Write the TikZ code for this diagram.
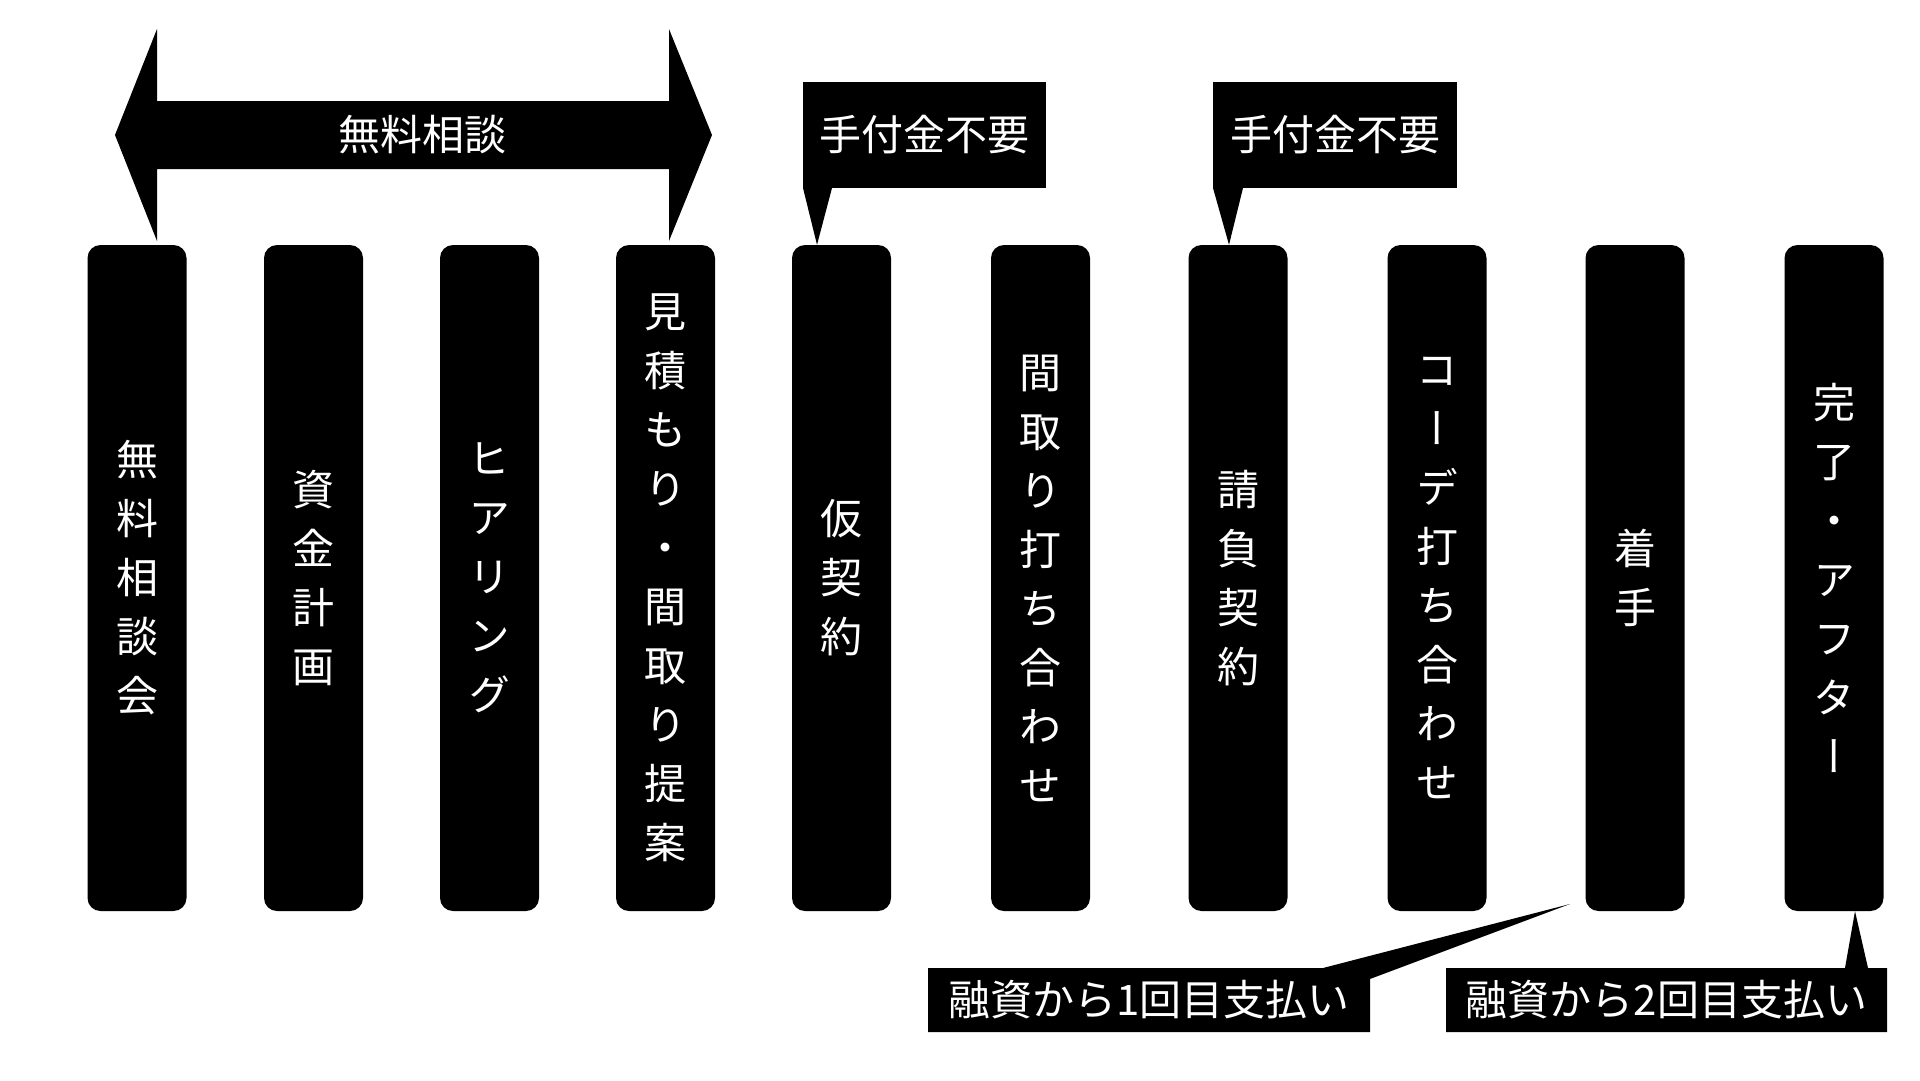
\documentclass[tikz,border=0pt]{standalone}
\usepackage{fontspec}
\setmainfont{Noto Sans CJK JP}
\newfontfamily\jpv[RawFeature=+vert]{Noto Sans CJK JP}
\begin{document}
\begin{tikzpicture}[x=1pt,y=-1pt,
  bar/.style={fill=black, rounded corners=13pt, minimum width=99pt, minimum height=666pt,
    inner sep=0pt, text=white, align=center, font=\jpv\fontsize{42}{59}\selectfont},
  wlabel/.style={text=white, inner sep=0pt, font=\fontsize{42}{50}\selectfont},
  callout/.style={fill=black}]
\fill[white] (0,0) rectangle (1920,1080);
\useasboundingbox (0,0) rectangle (1920,1080);

% bars
\node[bar] (b1) at (137,578) {無\\料\\相\\談\\会};
\node[bar] (b2) at (313.5,578) {資\\金\\計\\画};
\node[bar] (b3) at (489.5,578) {ヒ\\ア\\リ\\ン\\グ};
\node[bar] (b4) at (665.5,578) {見\\積\\も\\り\\・\\間\\取\\り\\提\\案};
\node[bar] (b5) at (841.5,578) {仮\\契\\約};
\node[bar] (b6) at (1040.5,578) {間\\取\\り\\打\\ち\\合\\わ\\せ};
\node[bar] (b7) at (1238,578) {請\\負\\契\\約};
\node[bar] (b8) at (1437,578) {コ\\ー\\デ\\打\\ち\\合\\わ\\せ};
\node[bar] (b9) at (1635,578) {着\\手};
\node[bar] (b10) at (1834,578) {完\\了\\・\\ア\\フ\\タ\\ー};

% double arrow
\fill[black] (115,135) -- (157,29) -- (157,101) -- (669,101) -- (669,29) -- (712,135)
  -- (669,241) -- (669,169) -- (157,169) -- (157,241) -- cycle;
\node[wlabel] (free) at (422,135) {無料相談};

% top callouts
\fill[callout] (803,82) rectangle (1046,188);
\fill[callout] (803,188) -- (b5.north west -| 817,0) -- (832,188) -- cycle;
\node[wlabel] (t1) at (924.5,135) {手付金不要};
\fill[callout] (1213,82) rectangle (1457,188);
\fill[callout] (1213,188) -- (b7.north west -| 1229,0) -- (1243,188) -- cycle;
\node[wlabel] (t2) at (1335,135) {手付金不要};

% bottom callouts
\coordinate (p1) at (1570,904);
\fill[callout] (928,968) -- (1323,968) -- (p1) -- (1370,979) -- (1370,1032) -- (928,1032) -- cycle;
\node[wlabel] (m1) at (1149,1000) {融資から1回目支払い};
\fill[callout] (1446,968) -- (1845,968) -- (b10.south west -| 1855,0) -- (1868,968) -- (1887,968)
  -- (1887,1032) -- (1446,1032) -- cycle;
\node[wlabel] (m2) at (1666.5,1000) {融資から2回目支払い};
\end{tikzpicture}
\end{document}
